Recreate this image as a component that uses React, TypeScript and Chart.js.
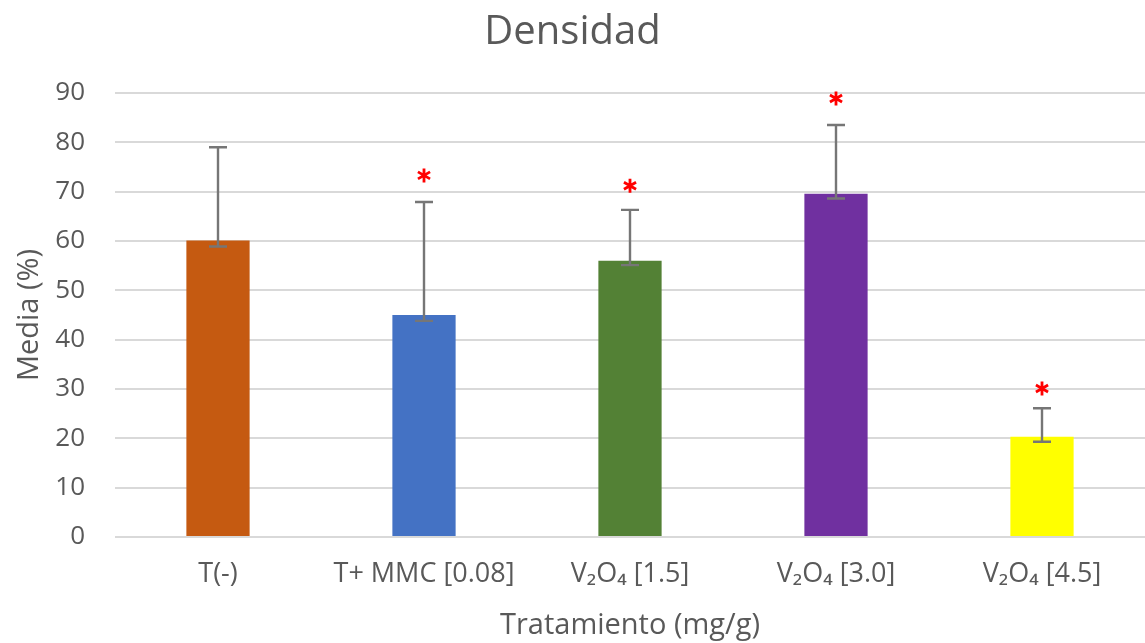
import React, { useEffect, useRef } from "react";
import { Chart, registerables } from "chart.js";

Chart.register(...registerables);

const categories = ["T(-)", "T+ MMC [0.08]", "V₂O₄ [1.5]", "V₂O₄ [3.0]", "V₂O₄ [4.5]"];
const means = [60.1, 45, 56, 69.6, 20.3];
const errUpper = [79, 67.9, 66.3, 83.5, 26.1];
const errLower = [58.9, 43.8, 55.1, 68.6, 19.3];
const starValues: (number | null)[] = [null, 73.3, 71.2, 88.9, 30.1];
const barColors = ["#C55A11", "#4472C4", "#538135", "#7030A0", "#FFFF00"];
const yTicks = [0, 10, 20, 30, 40, 50, 60, 70, 80, 90];

const FONT = "'Open Sans', 'Noto Sans', sans-serif";
const TEXT = "#595959";

const overlayPlugin = {
  id: "errorBarsAndStars",
  afterDatasetsDraw(chart: any) {
    const ctx = chart.ctx;
    const xs = chart.scales.x;
    const ys = chart.scales.y;
    ctx.save();
    categories.forEach((_, i) => {
      const x = xs.getPixelForValue(i);
      const yTop = ys.getPixelForValue(errUpper[i]);
      const yBot = ys.getPixelForValue(errLower[i]);
      ctx.strokeStyle = "#767676";
      ctx.lineWidth = 2.4;
      ctx.beginPath();
      ctx.moveTo(x, yTop);
      ctx.lineTo(x, yBot);
      ctx.moveTo(x - 9, yTop);
      ctx.lineTo(x + 9, yTop);
      ctx.moveTo(x - 9, yBot);
      ctx.lineTo(x + 9, yBot);
      ctx.stroke();
      const s = starValues[i];
      if (s !== null) {
        const sy = ys.getPixelForValue(s);
        const r = 7;
        ctx.strokeStyle = "#FF0000";
        ctx.lineWidth = 2.8;
        ctx.beginPath();
        for (const a of [90, 30, 150]) {
          const rad = (a * Math.PI) / 180;
          ctx.moveTo(x - r * Math.cos(rad), sy - r * Math.sin(rad));
          ctx.lineTo(x + r * Math.cos(rad), sy + r * Math.sin(rad));
        }
        ctx.stroke();
      }
    });
    ctx.restore();
  },
};

export default function App() {
  const ref = useRef<HTMLCanvasElement | null>(null);
  useEffect(() => {
    if (!ref.current) return;
    const chart = new Chart(ref.current, {
      type: "bar",
      data: {
        labels: categories,
        datasets: [
          {
            data: means,
            backgroundColor: barColors,
            borderWidth: 0,
            barPercentage: 1,
            categoryPercentage: 0.307,
          },
        ],
      },
      options: {
        animation: false,
        responsive: false,
        maintainAspectRatio: false,
        layout: { padding: { left: 0, right: 0, top: 0, bottom: 0 } },
        plugins: {
          legend: { display: false },
          tooltip: { enabled: false },
          title: {
            display: true,
            text: "Densidad",
            color: TEXT,
            font: { family: FONT, size: 40, weight: "normal" },
            padding: { top: 9, bottom: 36 },
          },
        },
        scales: {
          x: {
            grid: { display: false, drawTicks: false },
            border: { display: false },
            ticks: {
              color: TEXT,
              font: { family: FONT, size: 27 },
              padding: 21,
              maxRotation: 0,
              autoSkip: false,
            },
            title: {
              display: true,
              text: "Tratamiento (mg/g)",
              color: TEXT,
              font: { family: FONT, size: 29 },
              padding: { top: 0, bottom: 0 },
            },
            afterFit(scale: any) {
              scale.height = 106;
            },
          },
          y: {
            min: 0,
            max: 90,
            afterBuildTicks(scale: any) {
              scale.ticks = yTicks.map((v) => ({ value: v }));
            },
            grid: { color: "#D9D9D9", lineWidth: 2, drawTicks: false },
            border: { display: false },
            ticks: {
              color: TEXT,
              font: { family: FONT, size: 26 },
              padding: 30,
            },
            title: {
              display: true,
              text: "Media (%)",
              color: TEXT,
              font: { family: FONT, size: 29 },
              padding: { top: 12, bottom: 0 },
            },
            afterFit(scale: any) {
              scale.width = 115;
            },
          },
        },
      },
      plugins: [overlayPlugin],
    });
    return () => chart.destroy();
  }, []);
  return (
    <div style={{ position: "fixed", left: 0, top: 0, width: 1145, height: 643, background: "#fff" }}>
      <canvas ref={ref} width={1145} height={643} style={{ display: "block" }} />
    </div>
  );
}
